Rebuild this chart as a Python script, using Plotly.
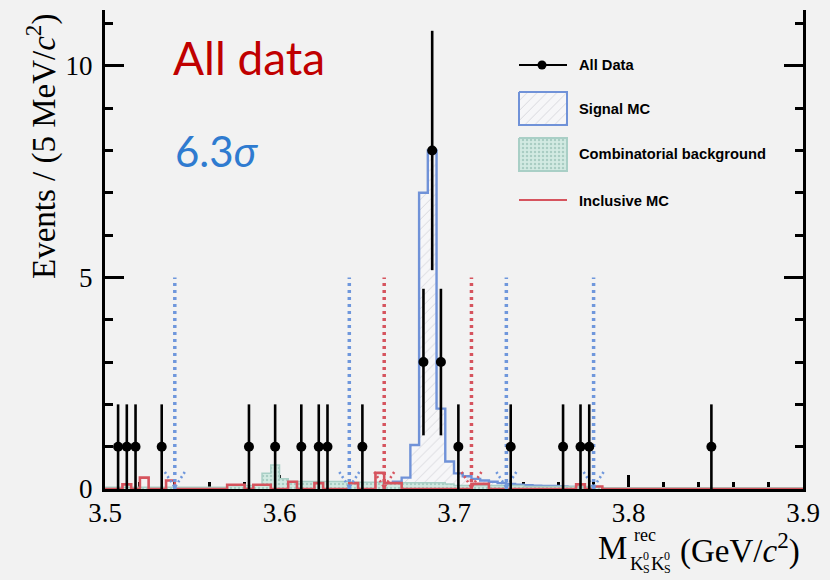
import numpy as np
import plotly.graph_objects as go

# ---------------------------------------------------------------- data
# 5 MeV bins from 3.500 to 3.900 GeV
bin_low = 3.500
bin_width = 0.005
n_bins = 80

# observed events (bin centres / counts)
data_x = [3.5075, 3.5125, 3.5175, 3.5325, 3.5825, 3.5975, 3.6125, 3.6225,
          3.6275, 3.6475, 3.6825, 3.6875, 3.6925, 3.7025, 3.7325, 3.7625,
          3.7725, 3.7775, 3.8475]
data_y = [1, 1, 1, 1, 1, 1, 1, 1, 1, 1, 3, 8, 3, 1, 1, 1, 1, 1, 1]

# signal MC, per bin
signal_mc = [
    0, 0, 0, 0, 0, 0, 0, 0, 0, 0,
    0, 0, 0, 0, 0, 0, 0, 0, 0, 0,
    0, 0, 0, 0, 0, 0, 0, 0, 0.02, 0.03,
    0.04, 0.06, 0.10, 0.17, 0.27, 1.04, 7.0, 8.0, 1.9, 0.65,
    0.37, 0.30, 0.24, 0.20, 0.17, 0.14, 0.12, 0.10, 0.09, 0.08,
    0.07, 0.07, 0.06, 0.05, 0.04, 0.03, 0, 0, 0, 0,
    0, 0, 0, 0, 0, 0, 0, 0, 0, 0,
    0, 0, 0, 0, 0, 0, 0, 0, 0, 0,
]

# combinatorial background, per bin
comb_bkg = [
    0.04, 0.04, 0.04, 0.04, 0.04, 0.04, 0.04, 0.04, 0.04, 0.04,
    0.04, 0.04, 0.04, 0.04, 0.08, 0.08, 0.08, 0.10, 0.37, 0.57,
    0.24, 0.18, 0.18, 0.18, 0.18, 0.18, 0.18, 0.18, 0.16, 0.16,
    0.16, 0.16, 0.15, 0.15, 0.15, 0.15, 0.15, 0.15, 0.15, 0.12,
    0.08, 0.08, 0.08, 0.08, 0.08, 0.08, 0.08, 0.08, 0.06, 0.06,
    0.06, 0.06, 0.06, 0.06, 0.06, 0.06, 0.06, 0.03, 0.03, 0.03,
    0.03, 0.03, 0.03, 0.03, 0.03, 0.03, 0.03, 0.03, 0.03, 0.03,
    0.03, 0.03, 0.03, 0.03, 0.03, 0.03, 0.03, 0.03, 0.03, 0.03,
]

# inclusive MC, per bin
inclusive_mc = [
    0, 0, 0.11, 0, 0.27, 0, 0, 0.20, 0, 0,
    0, 0, 0, 0, 0.10, 0.10, 0, 0.10, 0.10, 0,
    0, 0.17, 0, 0, 0.14, 0, 0, 0, 0.14, 0,
    0, 0.38, 0.14, 0.14, 0, 0, 0, 0, 0, 0,
    0, 0, 0.12, 0.12, 0, 0, 0, 0, 0, 0,
    0, 0, 0, 0, 0.11, 0, 0.06, 0, 0, 0,
    0, 0, 0, 0, 0, 0, 0, 0, 0, 0,
    0, 0, 0, 0, 0, 0, 0, 0, 0, 0,
]

# selection windows
sideband_edges = [3.54, 3.64, 3.73, 3.78]
signal_window = [3.66, 3.71]
window_marker_height = 5

x_ticks = [3.5, 3.6, 3.7, 3.8, 3.9]
y_ticks = [0, 5, 10]

# ---------------------------------------------------------------- style
BG = "#f2f2f2"
BLUE = "#7092d8"
BLUE_DOT = "#6f97dc"
RED = "#d6545e"
TEAL_LINE = "#a9cfc6"
TEAL_FILL = "#d2eae2"
TEAL_DOT = "#7fb0a4"
HATCH = "#b9b9c2"
SERIF = "Liberation Serif, Times New Roman, serif"
SANS = "Liberation Sans, Arial, sans-serif"

# plot-area geometry in pixels (used for text placement)
PL, PR, PT, PB = 105, 803, 10, 489
W, H = 830, 580


def px(xp):
    return (xp - PL) / (PR - PL)


def py(yp):
    return (PB - yp) / (PB - PT)


edges = bin_low + bin_width * np.arange(n_bins + 1)


def step_xy(values):
    xs = list(edges)
    ys = list(values) + [values[-1]]
    return xs, ys


fig = go.Figure()

# signal MC: hatched histogram
sx, sy = step_xy(signal_mc)
fig.add_trace(go.Scatter(
    x=sx, y=sy, mode="lines", line=dict(shape="hv", color=BLUE, width=2.4),
    fill="tozeroy", fillcolor="rgba(0,0,0,0)",
    fillpattern=dict(shape="/", fgcolor=HATCH, bgcolor="#f6f6f8", size=7, solidity=0.14),
    cliponaxis=False, hoverinfo="skip",
))

# combinatorial background: dotted mint fill
cx, cy = step_xy(comb_bkg)
fig.add_trace(go.Scatter(
    x=cx, y=cy, mode="lines", line=dict(shape="hv", color=TEAL_LINE, width=1.5),
    fill="tozeroy", fillcolor="rgba(0,0,0,0)",
    fillpattern=dict(shape=".", fgcolor=TEAL_DOT, bgcolor=TEAL_FILL, size=4, solidity=0.3),
    cliponaxis=False, hoverinfo="skip",
))

# inclusive MC: red outline
ix, iy = step_xy(inclusive_mc)
fig.add_trace(go.Scatter(
    x=ix, y=iy, mode="lines", line=dict(shape="hv", color=RED, width=2.6),
    cliponaxis=False, hoverinfo="skip",
))


def window_lines(positions):
    xs, ys = [], []
    for p in positions:
        xs += [p, p, None]
        ys += [0, window_marker_height, None]
    return xs, ys


def window_arrows(positions):
    half = 0.0057
    tip, top = 0.04, 0.40
    xs, ys = [], []
    for p in positions:
        xs += [p - half, p, None, p + half, p, None]
        ys += [top, tip, None, top, tip, None]
    return xs, ys


for pos, col in ((sideband_edges, BLUE_DOT), (signal_window, RED)):
    lx, ly = window_lines(pos)
    fig.add_trace(go.Scatter(x=lx, y=ly, mode="lines",
                             line=dict(color=col, width=3.5, dash="3px,4px"),
                             hoverinfo="skip"))
    ax_, ay_ = window_arrows(pos)
    fig.add_trace(go.Scatter(x=ax_, y=ay_, mode="lines",
                             line=dict(color=col, width=2.6, dash="2px,3px"),
                             cliponaxis=False, hoverinfo="skip"))

# data points with Poisson errors
fig.add_trace(go.Scatter(
    x=data_x, y=data_y, mode="markers",
    marker=dict(color="black", size=10),
    error_y=dict(type="data", array=list(np.sqrt(data_y)), color="black",
                 thickness=2.6, width=0),
    cliponaxis=False, hoverinfo="skip",
))

# ---------------------------------------------------------------- legend
# drawn on an overlay axis measured in pixels
LEG_X0, LEG_X1, LEG_TEXT_X = 519, 567, 577
leg_rows = {"data": 65, "signal": (92, 125), "comb": (138, 171), "incl": 200}

fig.add_trace(go.Scatter(x=[LEG_X0, LEG_X1], y=[leg_rows["data"]] * 2, mode="lines",
                         line=dict(color="black", width=2.2), xaxis="x2", yaxis="y2",
                         hoverinfo="skip"))
fig.add_trace(go.Scatter(x=[(LEG_X0 + LEG_X1) / 2 - 1], y=[leg_rows["data"]], mode="markers",
                         marker=dict(color="black", size=9), xaxis="x2", yaxis="y2",
                         hoverinfo="skip"))
y0, y1 = leg_rows["signal"]
fig.add_trace(go.Scatter(
    x=[LEG_X0, LEG_X1, LEG_X1, LEG_X0, LEG_X0], y=[y0, y0, y1, y1, y0],
    mode="lines", line=dict(color=BLUE, width=2), fill="toself", fillcolor="rgba(0,0,0,0)",
    fillpattern=dict(shape="/", fgcolor=HATCH, bgcolor="#f6f6f8", size=7, solidity=0.14),
    xaxis="x2", yaxis="y2", hoverinfo="skip"))
y0, y1 = leg_rows["comb"]
fig.add_trace(go.Scatter(
    x=[LEG_X0, LEG_X1, LEG_X1, LEG_X0, LEG_X0], y=[y0, y0, y1, y1, y0],
    mode="lines", line=dict(color=TEAL_LINE, width=2), fill="toself", fillcolor="rgba(0,0,0,0)",
    fillpattern=dict(shape=".", fgcolor=TEAL_DOT, bgcolor=TEAL_FILL, size=4, solidity=0.3),
    xaxis="x2", yaxis="y2", hoverinfo="skip"))
fig.add_trace(go.Scatter(x=[LEG_X0, LEG_X1], y=[leg_rows["incl"]] * 2, mode="lines",
                         line=dict(color=RED, width=2), xaxis="x2", yaxis="y2",
                         hoverinfo="skip"))

annotations = []
leg_labels = [("All Data", 65), ("Signal MC", 109), ("Combinatorial background", 154),
              ("Inclusive MC", 201)]
for txt, yy in leg_labels:
    annotations.append(dict(text=f"<b>{txt}</b>", x=px(LEG_TEXT_X), y=py(yy),
                            xref="paper", yref="paper", xanchor="left", yanchor="middle",
                            showarrow=False, font=dict(family=SANS, size=14.7, color="black")))

# headline texts
annotations.append(dict(text="All data", x=px(171), y=py(58), xref="paper", yref="paper",
                        xanchor="left", yanchor="middle", showarrow=False,
                        font=dict(family="Lato, Open Sans, sans-serif", size=46, color="#c00000")))
annotations.append(dict(text="6.3<i>σ</i>", x=px(173), y=py(151), xref="paper", yref="paper",
                        xanchor="left", yanchor="middle", showarrow=False,
                        font=dict(family="Lato, Noto Sans, sans-serif", size=42, color="#2f7bd0")))

# axis titles
annotations.append(dict(text="Events / (5 MeV/<i>c</i><sup>2</sup>)", x=px(41), y=py(147),
                        xref="paper", yref="paper", xanchor="center", yanchor="middle",
                        textangle=-90, showarrow=False,
                        font=dict(family=SERIF, size=33, color="black")))
title_parts = [
    ("M", 597, 548, 33, "left"),
    ("rec", 633, 535, 18, "left"),
    ("K", 629, 563, 19, "left"),
    ("0", 642, 556, 12, "left"),
    ("S", 642, 569, 12, "left"),
    ("K", 650, 563, 19, "left"),
    ("0", 663, 556, 12, "left"),
    ("S", 663, 569, 12, "left"),
    ("(GeV/<i>c</i><sup>2</sup>)", 801, 548, 33, "right"),
]
for txt, xx, yy, sz, anc in title_parts:
    annotations.append(dict(text=txt, x=px(xx), y=py(yy), xref="paper", yref="paper",
                            xanchor=anc, yanchor="middle", showarrow=False, borderpad=0,
                            font=dict(family=SERIF, size=sz, color="black")))

fig.update_layout(
    width=W, height=H,
    margin=dict(l=PL, r=W - PR, t=PT, b=H - PB),
    paper_bgcolor=BG, plot_bgcolor=BG,
    showlegend=False,
    annotations=annotations,
    xaxis=dict(
        range=[3.5, 3.9], tickvals=x_ticks, ticktext=[f"{v:.1f}" for v in x_ticks],
        ticks="inside", ticklen=14, tickwidth=2.5, tickcolor="black",
        minor=dict(dtick=0.02, tick0=3.5, ticks="inside", ticklen=7, tickwidth=2.5,
                   tickcolor="black"),
        showline=True, linewidth=3, linecolor="black", mirror=False,
        showgrid=False, zeroline=False, layer="below traces",
        tickfont=dict(family=SERIF, size=27, color="black"), ticklabelstandoff=-2,
    ),
    yaxis=dict(
        range=[0, 11.32], tickvals=y_ticks, ticks="inside", ticklen=19, tickwidth=2.5,
        tickcolor="black",
        minor=dict(dtick=1, tick0=0, ticks="inside", ticklen=8, tickwidth=2.5,
                   tickcolor="black"),
        showline=True, linewidth=3, linecolor="black", mirror="allticks",
        showgrid=False, zeroline=False, layer="below traces",
        tickfont=dict(family=SERIF, size=27, color="black"), ticklabelstandoff=4,
    ),
    xaxis2=dict(range=[PL, PR], overlaying="x", visible=False, anchor="y2"),
    yaxis2=dict(range=[PB, PT], overlaying="y", visible=False, anchor="x2"),
)

fig.write_html("out.html")
